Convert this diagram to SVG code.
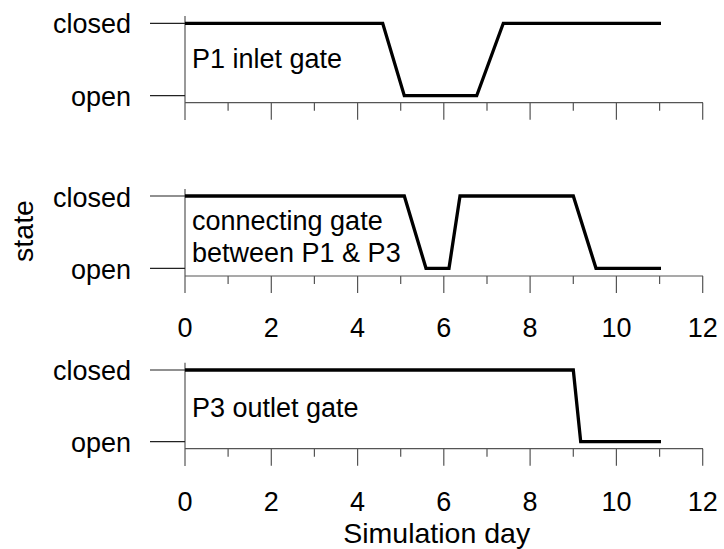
<svg xmlns="http://www.w3.org/2000/svg" width="724" height="549" viewBox="0 0 724 549">
<style>
.ax{stroke:#555;stroke-width:1.2;fill:none}
.yt{stroke:#222;stroke-width:1.2;fill:none}
.d{stroke:#000;stroke-width:3.3;fill:none;stroke-linejoin:miter;stroke-linecap:butt}
text{font-family:"Liberation Sans",Arial,sans-serif;fill:#000}
.tl{font-size:27px;text-anchor:end}
.tk{font-size:27px;text-anchor:middle}
.lb{font-size:27px}
.at{font-size:28.5px;text-anchor:middle}
</style>
<defs>
<g id="xticks">
<path class="ax" d="M185,0H703 M228.1,0v8 M271.3,0v17 M314.4,0v8 M357.6,0v17 M400.7,0v8 M443.8,0v17 M487,0v8 M530.1,0v17 M573.3,0v8 M616.4,0v17 M659.6,0v8 M702.7,0v17"/>
</g>
</defs>
<rect width="724" height="549" fill="#fff"/>
<g id="panel1">
<path class="ax" d="M185,16V120"/>
<path class="yt" d="M150,23.3H185 M150,95.7H185"/>
<use href="#xticks" y="102.7"/>
<text class="tl" x="131" y="33.3">closed</text>
<text class="tl" x="131" y="106">open</text>
<text class="lb" x="192" y="68">P1 inlet gate</text>
<path class="d" d="M185,23.3H382.7L404.3,95.7H476.7L503.3,23.3H661"/>
</g>
<g id="panel2">
<path class="ax" d="M185,189V293"/>
<path class="yt" d="M150,196H185 M150,268.3H185"/>
<use href="#xticks" y="276"/>
<text class="tl" x="131" y="206.7">closed</text>
<text class="tl" x="131" y="279.3">open</text>
<text class="lb" x="192" y="230">connecting gate</text>
<text class="lb" x="192" y="261.7">between P1 &amp; P3</text>
<path class="d" d="M185,196H404.3L426,268.3H449L460,196H573.3L596,268.3H661"/>
<text class="tk" x="185" y="337.3">0</text>
<text class="tk" x="271.3" y="337.3">2</text>
<text class="tk" x="357.6" y="337.3">4</text>
<text class="tk" x="443.8" y="337.3">6</text>
<text class="tk" x="530.1" y="337.3">8</text>
<text class="tk" x="616.4" y="337.3">10</text>
<text class="tk" x="702.7" y="337.3">12</text>
</g>
<g id="panel3">
<path class="ax" d="M185,362.7V466"/>
<path class="yt" d="M150,370H185 M150,441.7H185"/>
<use href="#xticks" y="448.7"/>
<text class="tl" x="131" y="380">closed</text>
<text class="tl" x="131" y="451.7">open</text>
<text class="lb" x="192" y="417.3">P3 outlet gate</text>
<path class="d" d="M185,370H573.3L580.7,441.7H661"/>
<text class="tk" x="185" y="510.5">0</text>
<text class="tk" x="271.3" y="510.5">2</text>
<text class="tk" x="357.6" y="510.5">4</text>
<text class="tk" x="443.8" y="510.5">6</text>
<text class="tk" x="530.1" y="510.5">8</text>
<text class="tk" x="616.4" y="510.5">10</text>
<text class="tk" x="702.7" y="510.5">12</text>
</g>
<g id="axis-titles">
<text class="at" x="436.7" y="543">Simulation day</text>
<text class="at" transform="translate(33.3,231) rotate(-90)">state</text>
</g>
</svg>
